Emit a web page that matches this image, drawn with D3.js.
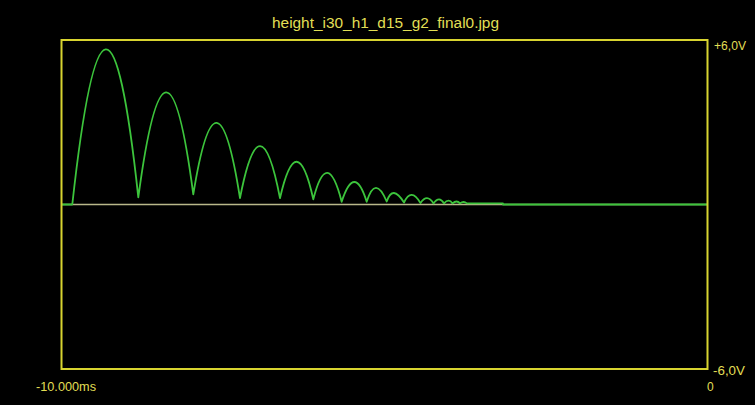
<!DOCTYPE html>
<html><head><meta charset="utf-8">
<script src="https://cdn.jsdelivr.net/npm/d3@7"></script>
<style>html,body{margin:0;padding:0;background:#000;} svg{display:block}</style>
</head><body><svg id="c" width="755" height="405"></svg>
<script>
const title = "height_i30_h1_d15_g2_final0.jpg";
const xDomain = [-10, 0];          // ms
const yDomain = [-6, 6];           // V
const xTickLabels = ["-10.000ms", "0"];
const yTickLabels = ["+6,0V", "-6,0V"];

// bounce trace: impact points (minima) and arc peaks
const impactTimes  = [-9.833, -8.811, -7.960, -7.237, -6.618, -6.102, -5.663, -5.276, -4.966, -4.698, -4.443, -4.241, -4.079, -3.947, -3.831, -3.723];
const impactValues = [0.00, 0.26, 0.37, 0.23, 0.23, 0.19, 0.10, 0.10, 0.11, 0.07, 0.05, 0.04, 0.04, 0.04, 0.04, 0.04];
const peakTimes    = [-9.316, -8.382, -7.598, -6.927, -6.359, -5.885, -5.467, -5.132, -4.853, -4.579, -4.342, -4.156, -4.009, -3.885, -3.777];
const peakValues   = [5.66, 4.09, 2.98, 2.13, 1.56, 1.15, 0.82, 0.61, 0.42, 0.35, 0.23, 0.19, 0.14, 0.11, 0.09];
// flat parts before and after the bounces
const leadTimes  = [-10, -9.833];
const leadValues = [0, 0];
const tailTimes  = [-3.723, -3.166, -3.166, 0];
const tailValues = [0.04, 0.04, 0.0, 0.0];

const svg = d3.select("#c");
svg.append("rect").attr("width", 755).attr("height", 405).attr("fill", "#000");

const x = d3.scaleLinear().domain(xDomain).range([61.5, 707.5]);
const y = d3.scaleLinear().domain(yDomain).range([369, 40]);

const yellow = "#d8d430";
const textCol = "#e2df55";

// zero reference line
svg.append("line")
  .attr("x1", x(xDomain[0])).attr("x2", x(xDomain[1]))
  .attr("y1", y(0)).attr("y2", y(0))
  .attr("stroke", "#b9b88a").attr("stroke-width", 1.5);

// trace
const p = d3.path();
p.moveTo(x(leadTimes[0]), y(leadValues[0]));
for (let i = 1; i < leadTimes.length; i++) p.lineTo(x(leadTimes[i]), y(leadValues[i]));
for (let i = 0; i < peakTimes.length; i++) {
  const x0 = x(impactTimes[i]), y0 = y(impactValues[i]);
  const x2 = x(impactTimes[i + 1]), y2 = y(impactValues[i + 1]);
  const xp = x(peakTimes[i]), yp = y(peakValues[i]);
  p.quadraticCurveTo(2 * xp - (x0 + x2) / 2, 2 * yp - (y0 + y2) / 2, x2, y2);
}
for (let i = 0; i < tailTimes.length; i++) p.lineTo(x(tailTimes[i]), y(tailValues[i]));
svg.append("path").attr("d", p.toString())
  .attr("fill", "none").attr("stroke", "#3cc43c").attr("stroke-width", 1.8)
  .attr("stroke-linejoin", "round");

// frame
svg.append("rect")
  .attr("x", x(xDomain[0])).attr("y", y(yDomain[1]))
  .attr("width", x(xDomain[1]) - x(xDomain[0]))
  .attr("height", y(yDomain[0]) - y(yDomain[1]))
  .attr("fill", "none").attr("stroke", yellow).attr("stroke-width", 2);

const font = "'Liberation Sans', Arial, sans-serif";
// title
svg.append("text").text(title)
  .attr("x", 272).attr("y", 28)
  .attr("textLength", 227).attr("lengthAdjust", "spacingAndGlyphs")
  .attr("font-family", font).attr("font-size", 14).attr("fill", textCol);

// y labels
svg.append("text").text(yTickLabels[0])
  .attr("x", x(xDomain[1]) + 6.5).attr("y", y(yDomain[1]) + 10)
  .attr("textLength", 32).attr("lengthAdjust", "spacingAndGlyphs")
  .attr("font-family", font).attr("font-size", 12).attr("fill", textCol);
svg.append("text").text(yTickLabels[1])
  .attr("x", x(xDomain[1]) + 5.5).attr("y", y(yDomain[0]) + 6)
  .attr("textLength", 32).attr("lengthAdjust", "spacingAndGlyphs")
  .attr("font-family", font).attr("font-size", 12).attr("fill", textCol);

// x labels
svg.append("text").text(xTickLabels[0])
  .attr("x", x(xDomain[0]) - 25.5).attr("y", 390.5)
  .attr("textLength", 60).attr("lengthAdjust", "spacingAndGlyphs")
  .attr("font-family", font).attr("font-size", 12).attr("fill", textCol);
svg.append("text").text(xTickLabels[1])
  .attr("x", x(xDomain[1]) - 0.5).attr("y", 390.5)
  .attr("font-family", font).attr("font-size", 12).attr("fill", textCol);
</script></body></html>
